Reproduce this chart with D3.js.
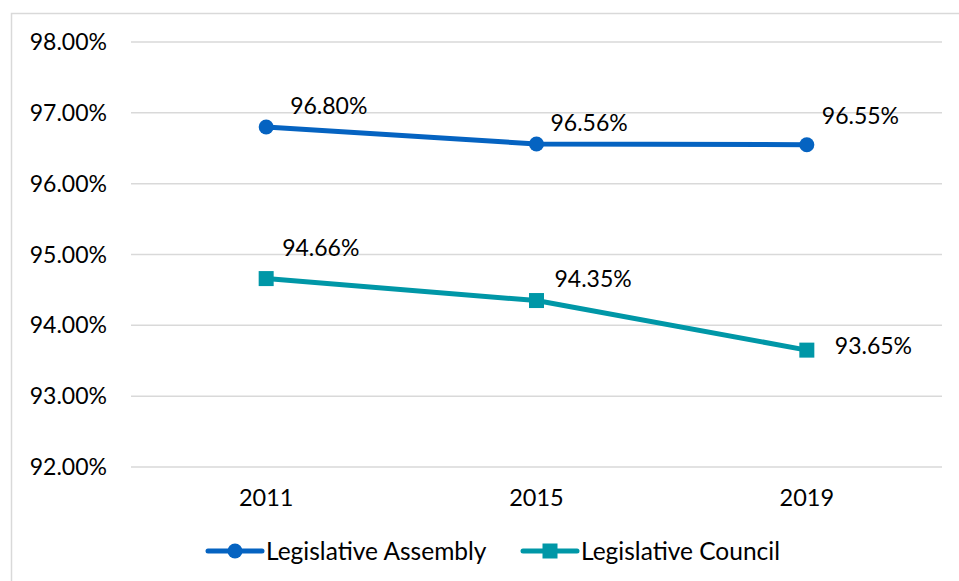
<!DOCTYPE html>
<html>
<head>
<meta charset="utf-8">
<script src="https://cdn.jsdelivr.net/npm/d3@7"></script>
<style>
  body { margin: 0; background: #fff; }
  svg { display: block; font-family: Lato, "Open Sans", sans-serif; }
</style>
</head>
<body>
<svg width="959" height="581"></svg>
<script>
const years = ["2011", "2015", "2019"];
const assembly = [96.80, 96.56, 96.55];
const council = [94.66, 94.35, 93.65];
const yTicks = [92, 93, 94, 95, 96, 97, 98];

// hand-placed label nudges, like the original
const assemblyLabelShift = [[24, -13], [14, -13], [15, -21]];
const councilLabelShift = [[16, -23], [18, -14], [28, 4]];

const svg = d3.select("svg");

// outer chart frame (only left and top edges show)
svg.append("rect")
  .attr("x", 11.5).attr("y", 13.5)
  .attr("width", 960).attr("height", 600)
  .attr("fill", "none")
  .attr("stroke", "#d9d9d9")
  .attr("stroke-width", 1.5);

const x = d3.scaleBand().domain(years).range([131, 942]);
const y = d3.scaleLinear().domain([92, 98]).range([467, 42]);

const g = svg.append("g");

g.selectAll("line.grid")
  .data(yTicks)
  .enter()
  .append("line")
  .attr("class", "grid")
  .attr("x1", 131).attr("x2", 942)
  .attr("y1", (d) => y(d)).attr("y2", (d) => y(d))
  .attr("stroke", "#d9d9d9")
  .attr("stroke-width", 1.5);

g.selectAll("text.ytick")
  .data(yTicks)
  .enter()
  .append("text")
  .attr("class", "ytick")
  .attr("x", 107)
  .attr("y", (d) => y(d))
  .attr("dy", "0.35em")
  .attr("text-anchor", "end")
  .attr("font-size", 23)
  .attr("fill", "#000")
  .text((d) => d.toFixed(2) + "%");

g.selectAll("text.xtick")
  .data(years)
  .enter()
  .append("text")
  .attr("class", "xtick")
  .attr("x", (d) => x(d) + x.bandwidth() / 2)
  .attr("y", 506)
  .attr("text-anchor", "middle")
  .attr("font-size", 23.5)
  .attr("fill", "#000")
  .text((d) => d);

const cx = (d, i) => x(years[i]) + x.bandwidth() / 2;
const line = d3.line().x(cx).y((d) => y(d));

function drawSeries(values, color, shape, shifts) {
  g.append("path")
    .datum(values)
    .attr("d", line)
    .attr("fill", "none")
    .attr("stroke", color)
    .attr("stroke-width", 5)
    .attr("stroke-linejoin", "round");

  if (shape === "circle") {
    g.selectAll(null)
      .data(values)
      .enter()
      .append("circle")
      .attr("cx", cx)
      .attr("cy", (d) => y(d))
      .attr("r", 7.5)
      .attr("fill", color);
  } else {
    g.selectAll(null)
      .data(values)
      .enter()
      .append("rect")
      .attr("x", (d, i) => cx(d, i) - 7.5)
      .attr("y", (d) => y(d) - 7.5)
      .attr("width", 15)
      .attr("height", 15)
      .attr("fill", color);
  }

  g.selectAll(null)
    .data(values)
    .enter()
    .append("text")
    .attr("x", (d, i) => cx(d, i) + shifts[i][0])
    .attr("y", (d, i) => y(d) + shifts[i][1])
    .attr("font-size", 23)
    .attr("fill", "#000")
    .text((d) => d.toFixed(2) + "%");
}

drawSeries(assembly, "#0563c1", "circle", assemblyLabelShift);
drawSeries(council, "#0097a7", "square", councilLabelShift);

// legend
const legend = [
  { name: "Legislative Assembly", color: "#0563c1", shape: "circle", x: 208 },
  { name: "Legislative Council", color: "#0097a7", shape: "square", x: 523 },
];
const ly = 551;
legend.forEach((l) => {
  const lg = svg.append("g");
  lg.append("line")
    .attr("x1", l.x).attr("x2", l.x + 54)
    .attr("y1", ly).attr("y2", ly)
    .attr("stroke", l.color)
    .attr("stroke-width", 5)
    .attr("stroke-linecap", "round");
  if (l.shape === "circle") {
    lg.append("circle").attr("cx", l.x + 27).attr("cy", ly).attr("r", 7.5).attr("fill", l.color);
  } else {
    lg.append("rect").attr("x", l.x + 19.5).attr("y", ly - 7.5)
      .attr("width", 15).attr("height", 15).attr("fill", l.color);
  }
  lg.append("text")
    .attr("x", l.x + 58)
    .attr("y", ly)
    .attr("dy", "0.35em")
    .attr("font-size", 24.5)
    .attr("fill", "#000")
    .text(l.name);
});
</script>
</body>
</html>
